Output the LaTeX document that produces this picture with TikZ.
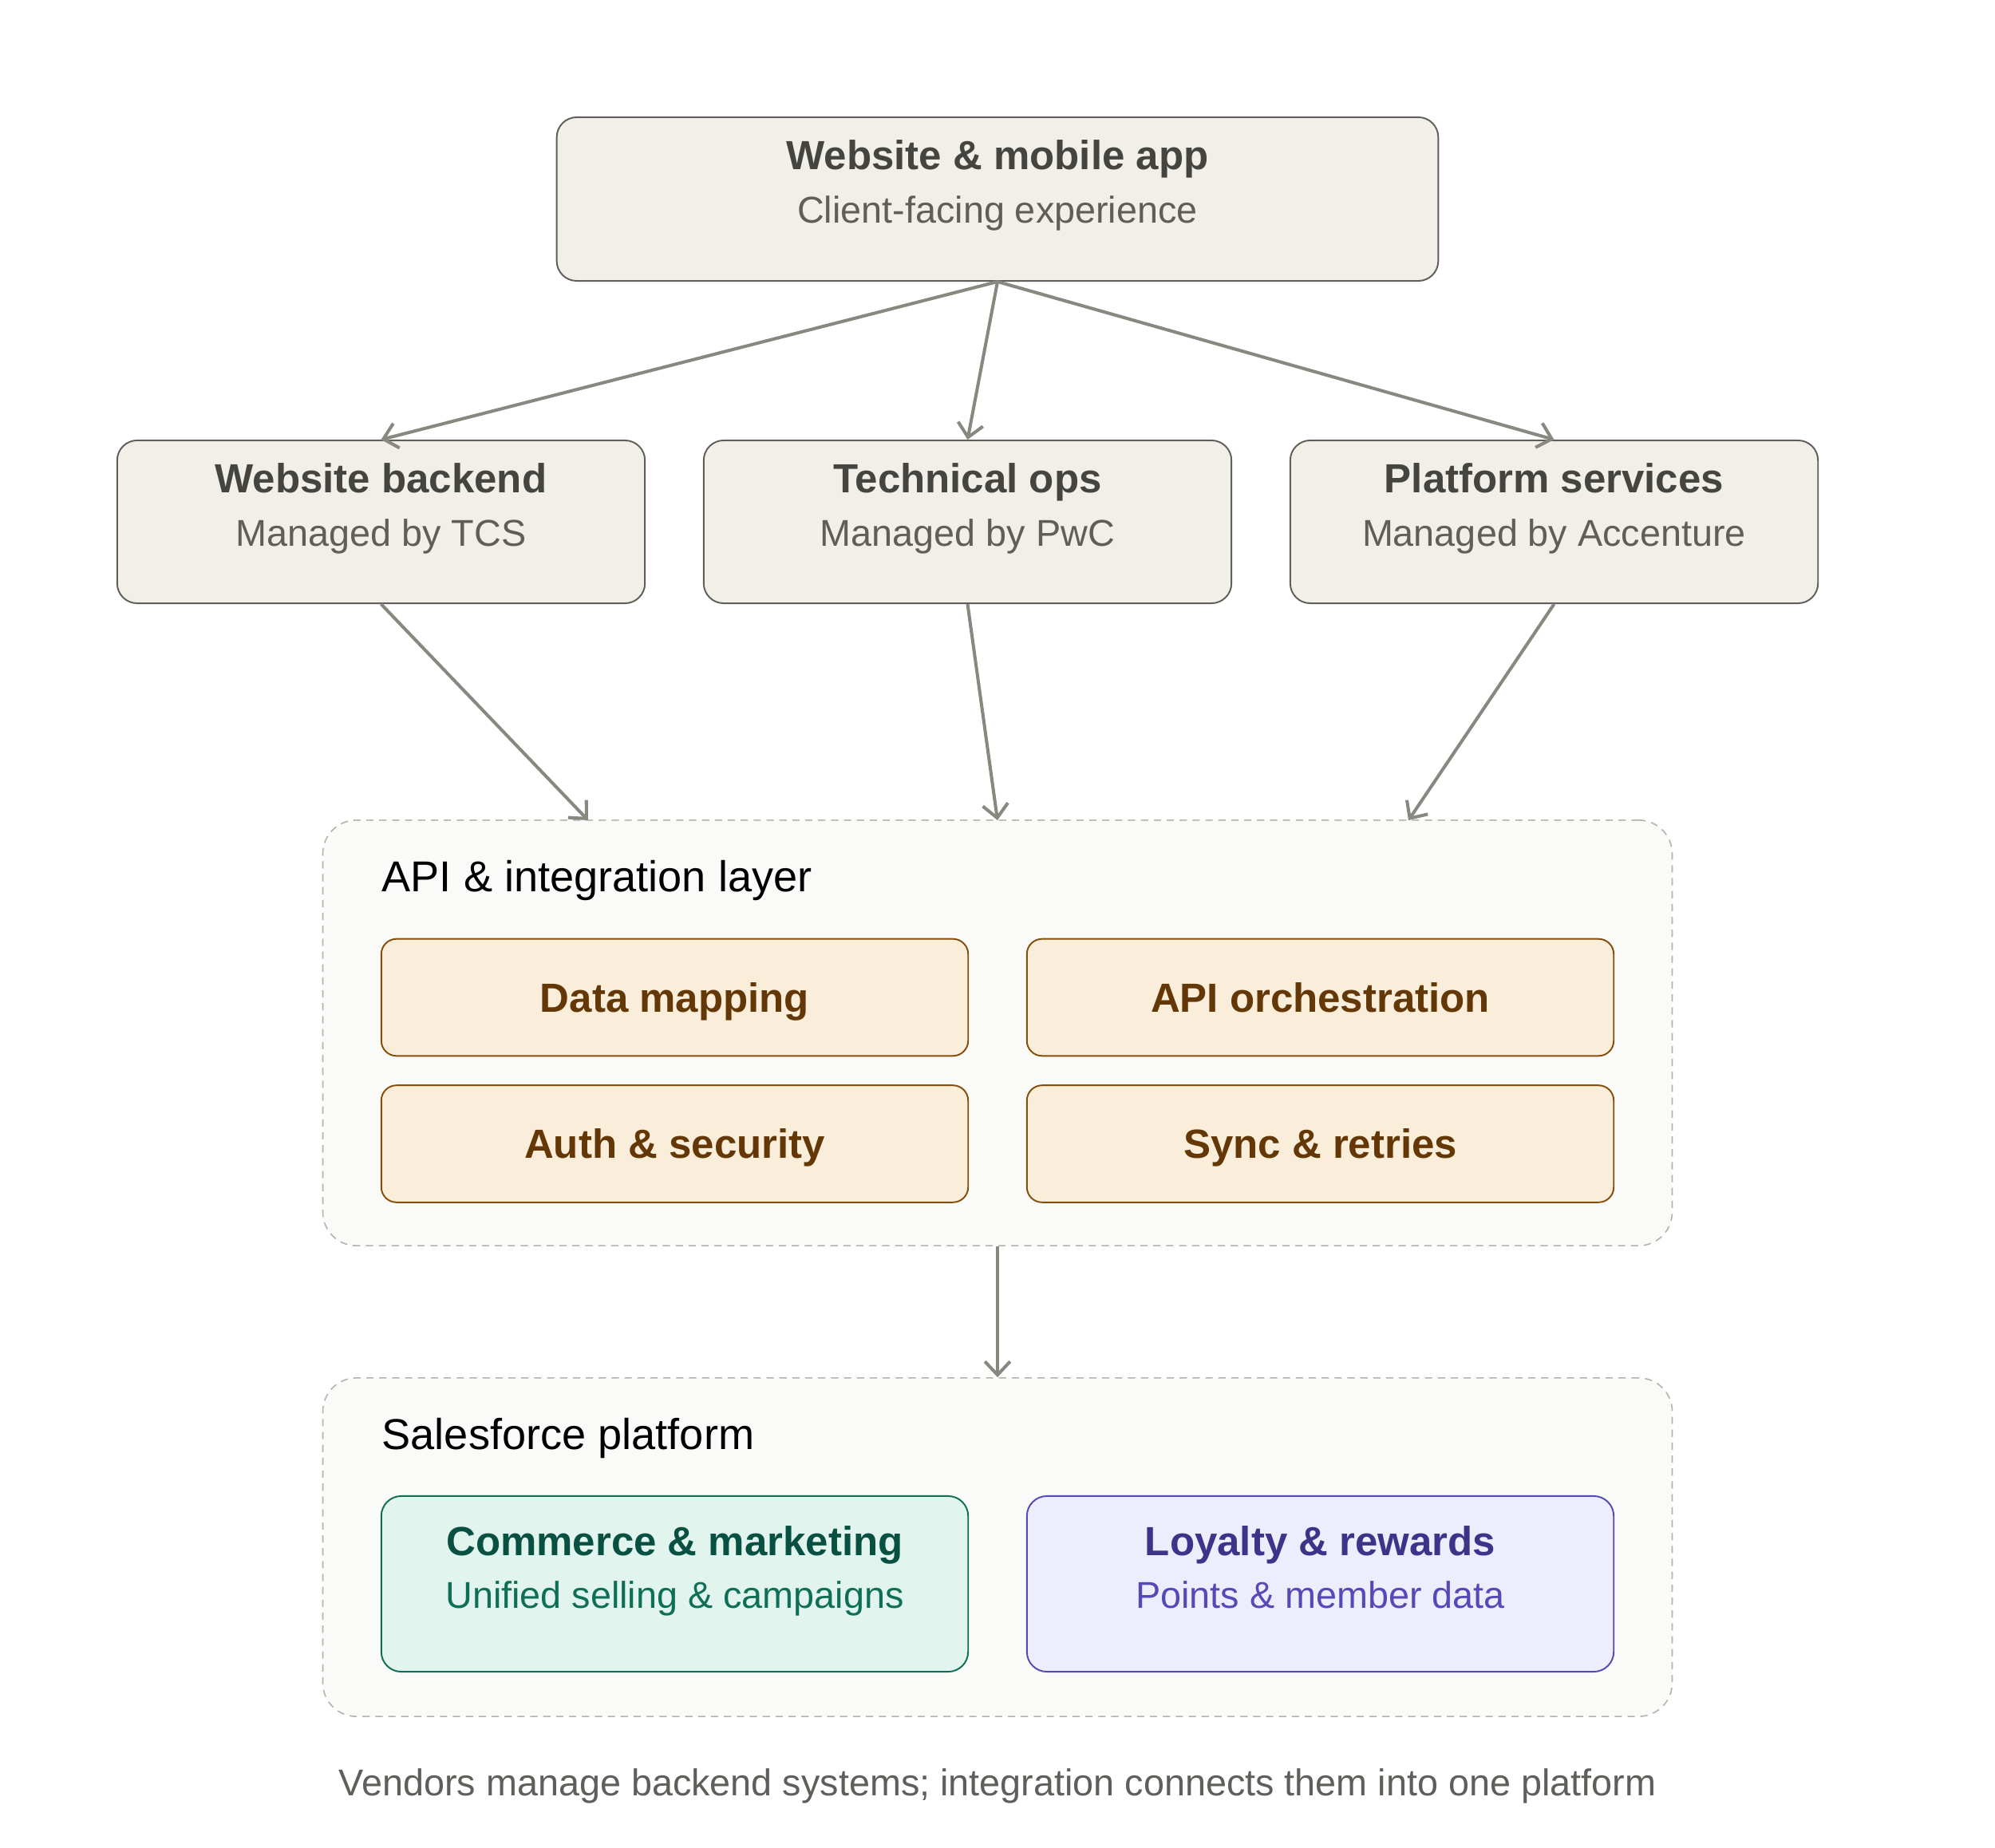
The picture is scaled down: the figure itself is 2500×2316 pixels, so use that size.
\documentclass[tikz,border=0pt]{standalone}
\usepackage{fontspec}
\setmainfont{Liberation Sans}
\usetikzlibrary{arrows.meta}
\definecolor{boxfill}{HTML}{F1EFE8}
\definecolor{boxdraw}{HTML}{5F5E5A}
\definecolor{titlecol}{HTML}{444441}
\definecolor{subcol}{HTML}{5F5E5A}
\definecolor{arrowcol}{HTML}{888780}
\definecolor{contfill}{HTML}{FAFAF8}
\definecolor{contdraw}{HTML}{B4B2A9}
\definecolor{ambfill}{HTML}{FAEEDA}
\definecolor{ambdraw}{HTML}{854F0B}
\definecolor{ambtext}{HTML}{633806}
\definecolor{tealfill}{HTML}{E1F5EE}
\definecolor{tealdraw}{HTML}{0F6E56}
\definecolor{tealtitle}{HTML}{085041}
\definecolor{purpfill}{HTML}{EEEDFE}
\definecolor{purpdraw}{HTML}{534AB7}
\definecolor{purptitle}{HTML}{3C3489}
\begin{document}
\begin{tikzpicture}[x=0.01cm,y=-0.01cm,
  graybox/.style={draw=boxdraw,fill=boxfill,line width=0.55pt,rounded corners=0.25cm,inner sep=0pt},
  container/.style={draw=contdraw,fill=contfill,line width=0.45pt,dash pattern=on 2.6pt off 2pt,rounded corners=0.42cm,inner sep=0pt},
  ambbox/.style={draw=ambdraw,fill=ambfill,line width=0.55pt,rounded corners=0.19cm,inner sep=0pt,minimum width=7.35cm,minimum height=1.465cm,text=ambtext,font=\fontsize{14.5}{17}\selectfont\bfseries,text height=10.4pt,text depth=0pt},
  titletext/.style={font=\fontsize{14.5}{17}\selectfont\bfseries,text=titlecol,inner sep=0pt,anchor=base},
  subtext/.style={font=\fontsize{13.3}{16}\selectfont,text=subcol,inner sep=0pt,anchor=base},
  conttitle/.style={font=\fontsize{15.4}{18}\selectfont,text=black,inner sep=0pt,anchor=base west},
  flow/.style={draw=arrowcol,line width=1.15pt,-{Straight Barb[length=4.8pt,width=9pt,line width=1.15pt]}}
]
\useasboundingbox (0,0) rectangle (2500,2316);

% top box
\node[graybox,minimum width=11.04cm,minimum height=2.05cm] (top) at (1250,249.5) {};
\node[titletext] (toptitle) at (1250,213) {Website \& mobile app};
\node[subtext] (topsub) at (1250,280) {Client-facing experience};

% row 2
\node[graybox,minimum width=6.61cm,minimum height=2.04cm] (wb) at (477.5,654) {};
\node[titletext] (wbt) at (477.5,618) {Website backend};
\node[subtext] (wbs) at (477.5,685) {Managed by TCS};

\node[graybox,minimum width=6.61cm,minimum height=2.04cm] (to) at (1212.5,654) {};
\node[titletext] (tot) at (1212.5,618) {Technical ops};
\node[subtext] (tos) at (1212.5,685) {Managed by PwC};

\node[graybox,minimum width=6.61cm,minimum height=2.04cm] (ps) at (1947.5,654) {};
\node[titletext] (pst) at (1947.5,618) {Platform services};
\node[subtext] (pss) at (1947.5,685) {Managed by Accenture};

% API container
\node[container,minimum width=16.9cm,minimum height=5.33cm] (api) at (1250,1294.5) {};
\node[conttitle] (apit) at (478,1117) {API \& integration layer};
\node[ambbox] (dm) at (845.5,1250) {Data mapping};
\node[ambbox] (ao) at (1654.5,1250) {API orchestration};
\node[ambbox] (as) at (845.5,1433.5) {Auth \& security};
\node[ambbox] (sr) at (1654.5,1433.5) {Sync \& retries};

% Salesforce container
\node[container,minimum width=16.9cm,minimum height=4.24cm] (sf) at (1250,1939) {};
\node[conttitle] (sft) at (478,1816) {Salesforce platform};
\node[draw=tealdraw,fill=tealfill,line width=0.55pt,rounded corners=0.25cm,minimum width=7.35cm,minimum height=2.2cm] (cm) at (845.5,1985) {};
\node[titletext,text=tealtitle] (cmt) at (845.5,1949) {Commerce \& marketing};
\node[subtext,text=tealdraw] (cms) at (845.5,2015) {Unified selling \& campaigns};
\node[draw=purpdraw,fill=purpfill,line width=0.55pt,rounded corners=0.25cm,minimum width=7.35cm,minimum height=2.2cm] (lr) at (1654.5,1985) {};
\node[titletext,text=purptitle] (lrt) at (1654.5,1949) {Loyalty \& rewards};
\node[subtext,text=purpdraw] (lrs) at (1654.5,2015) {Points \& member data};

% caption
\node[subtext,text=subcol] (cap) at (1250,2250) {Vendors manage backend systems; integration connects them into one platform};

% connectors
\coordinate (in1) at (737,1028);
\coordinate (in2) at (1250,1028);
\coordinate (in3) at (1765,1028);
\draw[flow] (top.south) -- (wb.north);
\draw[flow] (top.south) -- (to.north);
\draw[flow] (top.south) -- (ps.north);
\draw[flow] (wb.south) -- (in1);
\draw[flow] (to.south) -- (in2);
\draw[flow] (ps.south) -- (in3);
\draw[flow] (api.south) -- (sf.north);
\end{tikzpicture}
\end{document}
